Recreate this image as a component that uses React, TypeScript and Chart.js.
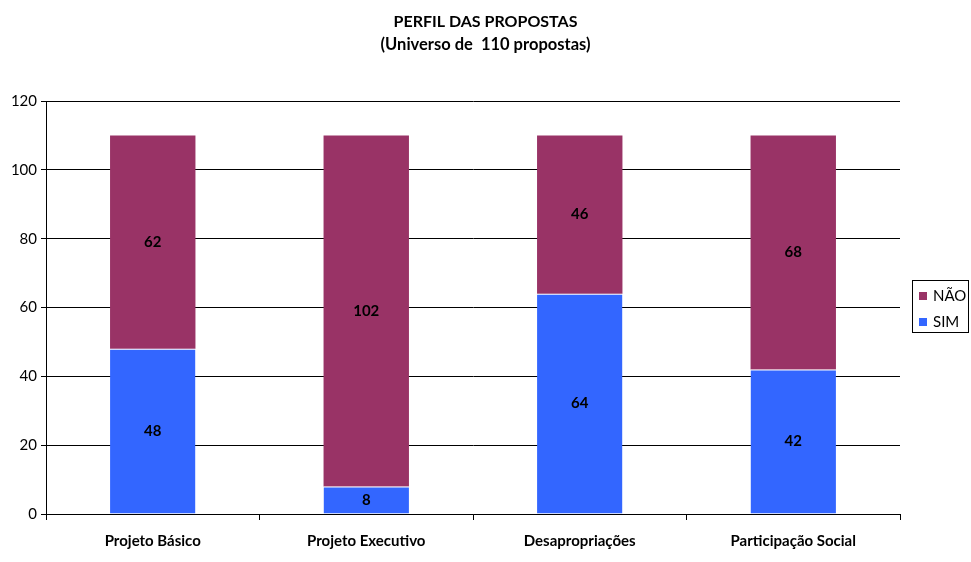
import React, { useEffect, useRef } from "react";
import { Chart, registerables } from "chart.js";

Chart.register(...registerables);

const categories = ["Projeto Básico", "Projeto Executivo", "Desapropriações", "Participação Social"];
const simValues = [48, 8, 64, 42];
const naoValues = [62, 102, 46, 68];
const titleLines = ["PERFIL DAS PROPOSTAS", "(Universo de  110 propostas)"];

const FONT = "Lato, 'Open Sans', sans-serif";

export default function App() {
  const ref = useRef<HTMLCanvasElement | null>(null);

  useEffect(() => {
    document.body.style.margin = "0";
    if (!ref.current) return;

    const labelPlugin = {
      id: "segLabels",
      afterDatasetsDraw(chart: any) {
        const ctx = chart.ctx;
        ctx.save();
        ctx.font = `bold 15px ${FONT}`;
        ctx.fillStyle = "#000";
        ctx.textAlign = "center";
        ctx.textBaseline = "middle";
        chart.data.datasets.forEach((ds: any, di: number) => {
          const meta = chart.getDatasetMeta(di);
          meta.data.forEach((bar: any, i: number) => {
            const y = (bar.y + bar.base) / 2;
            ctx.fillText(String(ds.data[i]), bar.x, y);
          });
        });
        ctx.restore();
      },
    };

    const titlePlugin = {
      id: "customTitle",
      afterDraw(chart: any) {
        const ctx = chart.ctx;
        ctx.save();
        ctx.font = `bold 16px ${FONT}`;
        ctx.fillStyle = "#000";
        ctx.textAlign = "center";
        ctx.textBaseline = "middle";
        ctx.fillText(titleLines[0], chart.width / 2, 22);
        ctx.font = `bold 16.5px ${FONT}`;
        ctx.fillText(titleLines[1], chart.width / 2, 45);
        ctx.restore();
      },
    };

    const legendPlugin = {
      id: "customLegend",
      afterDraw(chart: any) {
        const ctx = chart.ctx;
        ctx.save();
        const x0 = 912.5, y0 = 280.5, w = 56, h = 52;
        ctx.strokeStyle = "#000";
        ctx.lineWidth = 1;
        ctx.strokeRect(x0, y0, w, h);
        ctx.font = `15px ${FONT}`;
        ctx.textBaseline = "middle";
        ctx.textAlign = "left";
        const items = [chart.data.datasets[1], chart.data.datasets[0]];
        items.forEach((ds: any, i: number) => {
          const cy = 296 + i * 26;
          ctx.fillStyle = ds.backgroundColor;
          ctx.fillRect(919, cy - 4, 8, 8);
          ctx.fillStyle = "#000";
          ctx.fillText(ds.label, 933, cy);
        });
        ctx.restore();
      },
    };

    const chart = new Chart(ref.current, {
      type: "bar",
      data: {
        labels: categories,
        datasets: [
          {
            label: "SIM",
            data: simValues,
            backgroundColor: "#3366FF",
            borderColor: "#FFFFFF",
            borderWidth: { top: 1, left: 0, right: 0, bottom: 0 },
            borderSkipped: "bottom",
            inflateAmount: 0,
            categoryPercentage: 1,
            barPercentage: 0.4,
          },
          {
            label: "NÃO",
            data: naoValues,
            backgroundColor: "#993366",
            borderWidth: 0,
            inflateAmount: 0,
            categoryPercentage: 1,
            barPercentage: 0.4,
          },
        ],
      },
      options: {
        animation: false,
        responsive: false,
        maintainAspectRatio: false,
        layout: { padding: { left: 0, right: 71, top: 101, bottom: 0 } },
        plugins: {
          legend: { display: false },
          title: { display: false },
          tooltip: { enabled: false },
        },
        scales: {
          x: {
            stacked: true,
            grid: {
              display: true,
              drawOnChartArea: false,
              drawTicks: true,
              tickLength: 6,
              color: "#000",
              offset: true,
            },
            border: { display: true, color: "#000", width: 1 },
            ticks: {
              color: "#000",
              font: { family: FONT, size: 15, weight: "bold" },
              padding: 12,
              maxRotation: 0,
            },
            afterFit(scale: any) {
              scale.height = 48;
            },
          },
          y: {
            stacked: true,
            min: 0,
            max: 120,
            ticks: {
              stepSize: 20,
              color: "#000",
              font: { family: FONT, size: 15 },
              padding: 4,
            },
            grid: {
              color: "#000",
              drawTicks: true,
              tickLength: 5,
            },
            border: { display: true, color: "#000", width: 1 },
            afterFit(scale: any) {
              scale.width = 46;
            },
          },
        },
      },
      plugins: [labelPlugin, titlePlugin, legendPlugin],
    } as any);

    return () => chart.destroy();
  }, []);

  return <canvas ref={ref} width={971} height={562} style={{ display: "block" }} />;
}
